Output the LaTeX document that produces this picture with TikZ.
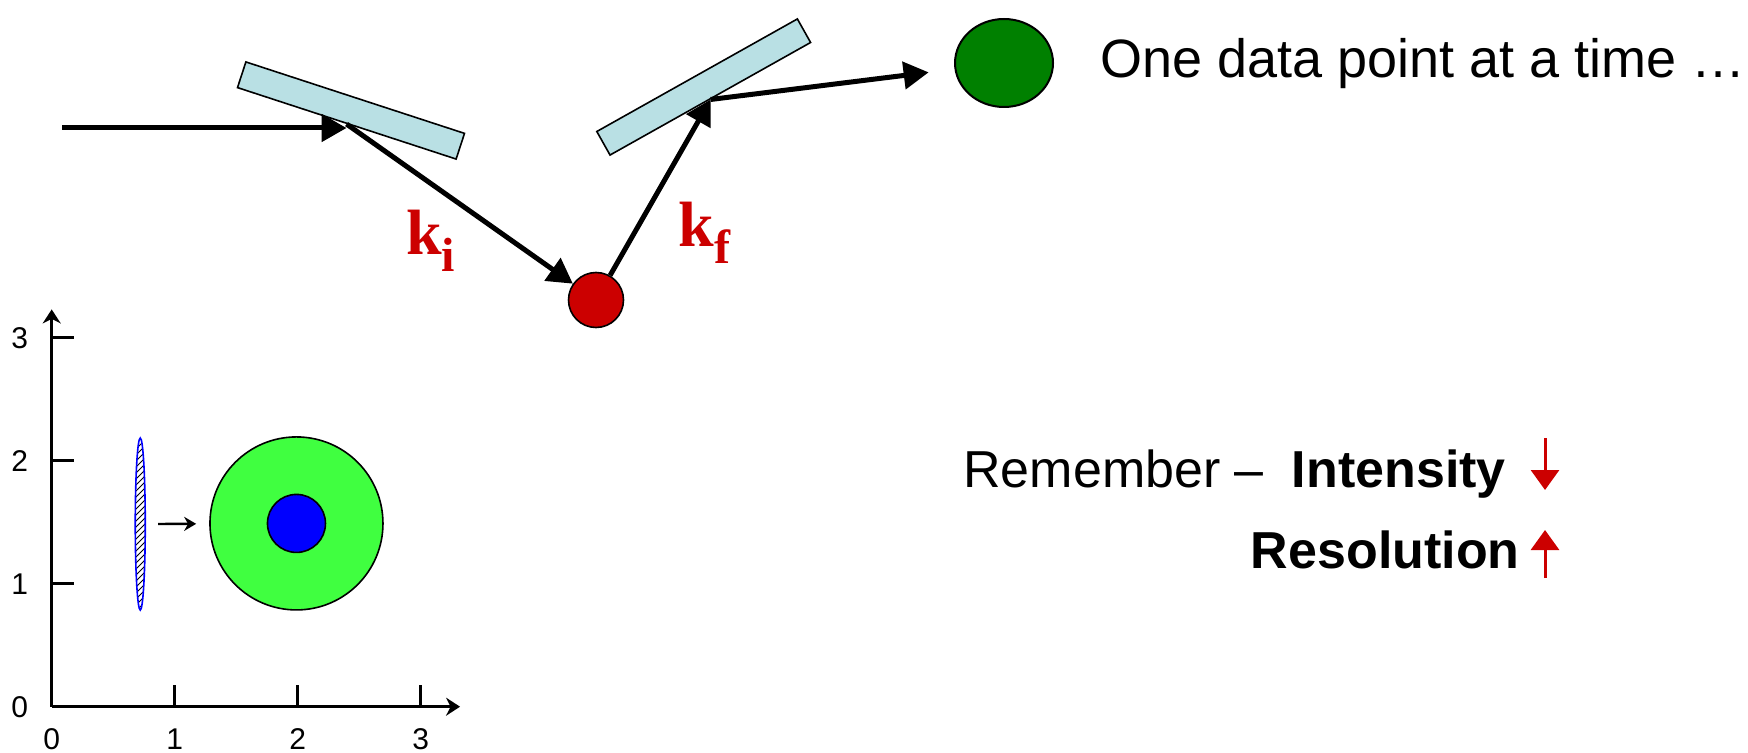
\documentclass[tikz,border=0pt]{standalone}
\usepackage{fontspec}
\setmainfont{Liberation Sans}
\newfontfamily\kfont{Liberation Serif}
\usepackage{tikz}
\usetikzlibrary{shapes.geometric, arrows.meta, positioning, calc, patterns}
\definecolor{myred}{RGB}{204,0,0}
\definecolor{mydkgreen}{RGB}{0,128,0}
\definecolor{mylime}{RGB}{64,255,64}
\definecolor{myblue}{RGB}{0,0,255}
\definecolor{mycrystal}{RGB}{185,224,228}
\tikzset{
  crystal/.style={rectangle, draw=black, fill=mycrystal, line width=0.8pt,
    minimum width=115pt, minimum height=13.5pt, inner sep=0pt},
  beam/.style={-{Triangle[length=12.5pt, width=13.5pt]}, line width=2.5pt, color=black},
  axis/.style={-{Stealth[length=7pt, width=9pt]}, line width=1.5pt},
  tick/.style={line width=1.5pt},
  ticklabel/.style={font=\fontsize{15}{15}\selectfont, inner sep=0pt},
  redtip/.style={-{Triangle[length=10pt, width=14pt]}, line width=1.5pt, color=myred},
  wavelabel/.style={font=\kfont\bfseries\fontsize{32}{32}\selectfont, color=myred,
    inner sep=0pt, anchor=base west},
  bigtext/.style={font=\fontsize{26}{26}\selectfont, inner sep=0pt}
}
\newcommand{\wavesub}[1]{\raisebox{-8.5pt}{\fontsize{24}{24}\selectfont #1}}

\begin{document}
\begin{tikzpicture}[x=0.5pt, y=-0.5pt]
  \useasboundingbox (0,0) rectangle (1748,753);
  % spectrometer
  \coordinate (src) at (62,128);
  \node[crystal, rotate=-18.1] (mono) at (351,110.5) {};
  \node[crystal, rotate=29.3] (ana) at (703.7,87) {};
  \node[circle, draw=black, fill=myred, line width=0.8pt, minimum size=27.5pt, inner sep=0pt] (sample) at (596,300) {};
  \node[ellipse, draw=black, fill=mydkgreen, line width=1pt, minimum width=49pt, minimum height=44pt, inner sep=0pt] (det) at (1004,63) {};
  \node[bigtext, font=\fontsize{27}{27}\selectfont, anchor=base west] (onetext) at (1100,78) {One data point at a time …};

  \draw[beam] (src) -- (src -| mono.south);
  \draw[beam] (mono.south) -- (sample);
  \draw[beam] (sample) -- (ana.south);
  \draw[beam, shorten >=13pt] (ana.south) -- (det);

  \node[wavelabel] (ki) at (406,255) {k\wavesub{i}};
  \node[wavelabel] (kf) at (678,247) {k\wavesub{f}};

  % remember
  \node[bigtext, anchor=base west] (remember) at (963,487) {Remember –\hspace{14pt}\textbf{Intensity}};
  \node[bigtext, anchor=base east] (resol) at (1520,568) {\textbf{Resolution}};
  \coordinate (dntop) at (1545,438);
  \coordinate (dnend) at (1545,490);
  \coordinate (uptop) at (1545,530);
  \coordinate (upend) at (1545,578);
  \draw[redtip] (dntop) -- (dnend);
  \draw[redtip] (upend) -- (uptop);

  % resolution plot
  \begin{scope}[shift={(51.7,706.7)}, x=61.5pt, y=61.5pt]
    \draw[axis] (0,0) -- (3.32,0);
    \draw[axis] (0,0) -- (0,3.23);
    \foreach \t in {1,2,3} {
      \draw[tick] (\t,0) -- (\t,0.18);
      \draw[tick] (0,\t) -- (0.18,\t);
    }
    \foreach \t in {0,1,2,3} {
      \node[ticklabel] (xl\t) at (\t,-0.265) {\t};
      \node[ticklabel] (yl\t) at (-0.26,\t) {\t};
    }
    \node[ellipse, draw=myblue, line width=0.8pt, pattern=north east lines, minimum width=5pt, minimum height=86pt, inner sep=0pt] (spot) at (0.72,1.485) {};
    \node[circle, draw=black, fill=mylime, line width=0.8pt, minimum size=86.5pt, inner sep=0pt] (halo) at (1.99,1.49) {};
    \node[circle, draw=black, fill=myblue, line width=0.8pt, minimum size=29pt, inner sep=0pt] (core) at (halo.center) {};
    \draw[-{Stealth[length=6pt, width=7pt]}, line width=1.2pt, shorten <=6pt, shorten >=6.5pt] (spot) -- (halo);
  \end{scope}
\end{tikzpicture}
\end{document}
